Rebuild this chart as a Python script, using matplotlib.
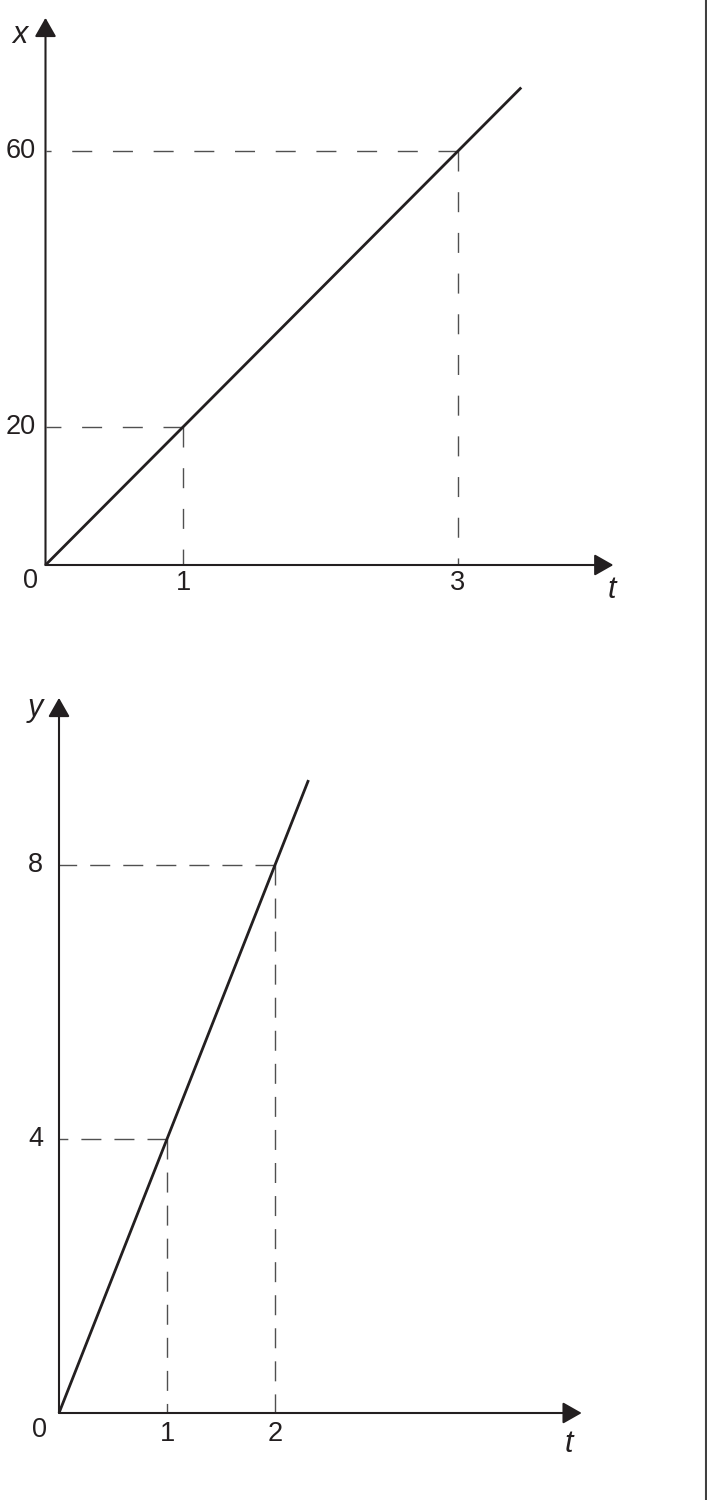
import matplotlib
matplotlib.use("Agg")
import matplotlib.pyplot as plt
from matplotlib.lines import Line2D

plt.rcParams['font.family'] = ['Liberation Sans', 'DejaVu Sans']
plt.rcParams['lines.scale_dashes'] = False

# ----------------------------------
# data: x-t graph (top)
top_line_t = [0, 3.46]
top_line_x = [0, 69.2]
top_pts_t = [1, 3]
top_pts_x = [20, 60]
top_t_max = 4.13
top_x_max = 79.3

# data: y-t graph (bottom)
bot_line_t = [0, 2.31]
bot_line_y = [0, 9.24]
bot_pts_t = [1, 2]
bot_pts_y = [4, 8]
bot_t_max = 4.84
bot_y_max = 10.44

# ----------------------------------
# layout (pixels)
W, H = 707, 1500
INK = '#231f20'
DASH_COL = '#505050'
NUM_SIZE = 19.5
VAR_SIZE = 22


def make_axes(fig, x0, y0, sx, sy, top, bot):
    # axes spanning rows top..bot, origin at pixel (x0, y0), sx/sy px per unit
    ax = fig.add_axes([0, 1 - bot / H, 1, (bot - top) / H])
    ax.set_xlim(-x0 / sx, (W - x0) / sx)
    ax.set_ylim((y0 - bot) / sy, (y0 - top) / sy)
    ax.axis('off')
    return ax


def draw_graph(ax, line_t, line_v, pts_t, pts_v, t_max, v_max, dashes,
               vlabel, vlab_off, tlab_off, zero_off, tick_dy, vtick_dx):
    arrow = dict(arrowstyle='-|>,head_length=0.58,head_width=0.33',
                 mutation_scale=20, lw=1.5, color=INK, shrinkA=0, shrinkB=0)
    ax.annotate('', xy=(t_max, 0), xytext=(0, 0), arrowprops=arrow)
    ax.annotate('', xy=(0, v_max), xytext=(0, 0), arrowprops=arrow)

    # guide lines, drawn from the point toward the axes
    for t, v in zip(pts_t, pts_v):
        ax.plot([t, 0], [v, v], color=DASH_COL, lw=1.0, dashes=dashes,
                solid_capstyle='butt', dash_capstyle='butt')
        ax.plot([t, t], [v, 0], color=DASH_COL, lw=1.0, dashes=dashes,
                solid_capstyle='butt', dash_capstyle='butt')
        ax.annotate(str(t), xy=(t, 0), xytext=(0, tick_dy), textcoords='offset pixels',
                    ha='center', va='center', fontsize=NUM_SIZE, color=INK)
        ax.annotate(str(v), xy=(0, v), xytext=(vtick_dx, 0), textcoords='offset pixels',
                    ha='right', va='center', fontsize=NUM_SIZE, color=INK)

    ax.plot(line_t, line_v, color=INK, lw=2.0, solid_capstyle='butt')

    ax.annotate('0', xy=(0, 0), xytext=zero_off, textcoords='offset pixels',
                ha='center', va='center', fontsize=NUM_SIZE, color=INK)
    ax.annotate(vlabel, xy=(0, v_max), xytext=vlab_off, textcoords='offset pixels',
                ha='center', va='center', fontsize=VAR_SIZE, style='italic', color=INK)
    ax.annotate('t', xy=(t_max, 0), xytext=tlab_off, textcoords='offset pixels',
                ha='center', va='center', fontsize=VAR_SIZE, style='italic', color=INK)


fig = plt.figure(figsize=(W / 100, H / 100), dpi=100)

ax1 = make_axes(fig, 45.5, 565, 137.5, 6.9, 0, 650)
draw_graph(ax1, top_line_t, top_line_x, top_pts_t, top_pts_x, top_t_max, top_x_max,
           (14.4, 14.9), 'x', (-25.5, -17), (-2, -25), (-14.5, -16), -18, -9.5)

ax2 = make_axes(fig, 59, 1413, 108, 68.5, 650, 1500)
draw_graph(ax2, bot_line_t, bot_line_y, bot_pts_t, bot_pts_y, bot_t_max, bot_y_max,
           (14.4, 9.4), 'y', (-24, -10), (-13, -31), (-19.5, -17), -21, -16)

# page edge on the right
fig.add_artist(Line2D([705.5 / W, 705.5 / W], [0, 1], color='#404040', lw=1.5))

fig.savefig('out.png', dpi=100)
